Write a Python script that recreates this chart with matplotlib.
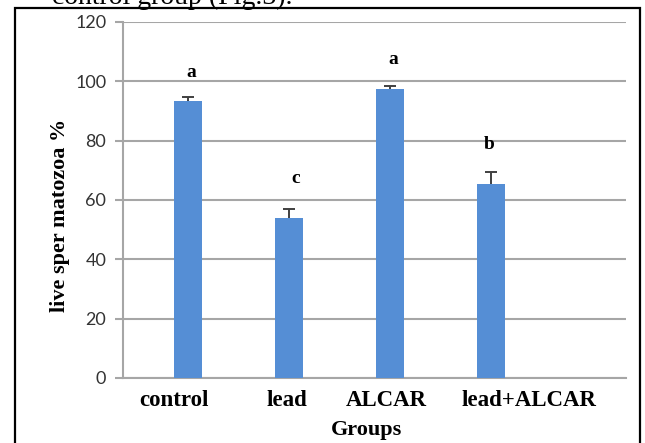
import matplotlib.pyplot as plt
import matplotlib.transforms as mtransforms
from matplotlib.patches import Rectangle

# Live spermatozoa (%) per group, mean and upper error
groups = ['control', 'lead', 'ALCAR', 'lead+ALCAR']
live_sperm = [93.3, 54.0, 97.5, 65.4]
sem = [1.3, 2.8, 1.0, 4.0]
letters = ['a', 'c', 'a', 'b']
letter_y = [103.0, 67.2, 107.4, 78.7]

# horizontal shift of group labels / letters relative to the bar (in category units)
label_shift = [-0.14, -0.02, -0.04, 0.38]
letter_shift = [0.03, 0.07, 0.03, -0.02]

BAR_COLOR = '#558ED5'
GRID_COLOR = '#A6A6A6'

fig = plt.figure(figsize=(6.45, 4.43), dpi=100)
ax = fig.add_axes([123 / 645, 1 - 378 / 443, 503 / 645, 356 / 443])

x = list(range(len(groups)))
ax.bar(x, live_sperm, width=0.28, color=BAR_COLOR, zorder=3)
eb = ax.errorbar(x, live_sperm, yerr=[[0] * len(sem), sem], fmt='none',
                 ecolor='#404040', elinewidth=1.4, capsize=4, capthick=1.4, zorder=4)
# only the upper cap is drawn in the original
for cap in eb[1]:
    if list(cap.get_ydata()) == live_sperm:
        cap.set_visible(False)

ax.set_ylim(0, 120)
ax.set_xlim(-0.644, 4.336)
ax.set_yticks(range(0, 121, 20))
ax.yaxis.grid(True, color=GRID_COLOR, linewidth=1.5, zorder=0)
ax.set_axisbelow(True)

for side in ['top', 'right']:
    ax.spines[side].set_visible(False)
for side in ['left', 'bottom']:
    ax.spines[side].set_color(GRID_COLOR)
    ax.spines[side].set_linewidth(1.5)

ax.tick_params(axis='y', length=6, width=1.5, color=GRID_COLOR, pad=6,
               labelsize=13, labelcolor='#333333')
for lbl in ax.get_yticklabels():
    lbl.set_family('Lato')
ax.set_xticks([])

trans = mtransforms.blended_transform_factory(ax.transData, ax.transAxes)
for i, name in enumerate(groups):
    ax.text(x[i] + label_shift[i], -0.062, name, transform=trans, ha='center', va='center',
            fontsize=16.5, fontweight='bold', family='Liberation Serif')
    ax.text(x[i] + letter_shift[i], letter_y[i], letters[i], ha='center', va='center',
            fontsize=14, fontweight='bold', family='Liberation Serif')

ax.text(0.485, -0.146, 'Groups', transform=ax.transAxes, ha='center', va='center',
        fontsize=16, fontweight='bold', family='Liberation Serif')
ax.set_ylabel('live sper matozoa %', fontsize=16, fontweight='bold', family='Liberation Serif')
ax.yaxis.set_label_coords(-0.105, 0.458)

# frame around the chart and cut-off caption text from the page
fig.patches.append(Rectangle((15 / 645, -0.02), 625 / 645, 1.02 - 8 / 443, transform=fig.transFigure,
                             fill=False, edgecolor='black', linewidth=1.6, zorder=10))
fig.text(52 / 645, 1 - 4 / 443, 'control group (Fig.3).', ha='left', va='baseline',
         fontsize=20, family='Liberation Serif')

fig.savefig('out.png', dpi=100)
